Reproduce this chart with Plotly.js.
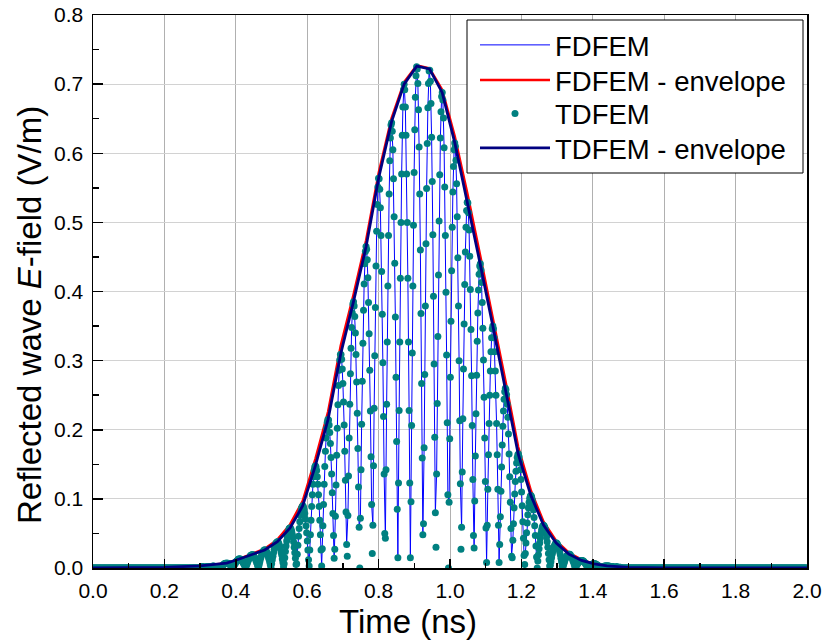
<!DOCTYPE html>
<html>
<head>
<meta charset="utf-8">
<script src="https://cdn.plot.ly/plotly-3.0.1.min.js"></script>
<style>html,body{margin:0;padding:0;background:#fff;}#chart{width:824px;height:642px;}</style>
</head>
<body>
<div id="chart"></div>
<script>
// ---------------- data ----------------
// Uniform time sampling of the two solutions (ns)
const tdfemStart = 0;
const tdfemStep = 0.00175;
const fdfemStart = 0;
const fdfemStep = 0.0035;

// TDFEM |E| samples, 0 ... 1.9985 ns
const tdfemValue = [
0,0,0,0,0,0,0,0,0,0,0,0,0,0,0,0,0,0,0,0,
0,0,0,0,0,0,0,0,0,0,0,0,0,0,0,0,0,0,0,0,
0,0,0,0,0,0,0,0,0,0,0,0,0,0,0,0,0,0,0,0,
0,0,0,0,0,0,0,0,0,0,0,0,0,0,0,0,0,0,0,0,
0,0,0,0,0,0,0,0,0,0,0,0,0,0,0,0,0,0,0,0,
0,0,0,0,0,0,0,0,0,0,0,0,0,0,0,0,0,0,0,0,
0,0,0,0,0,0,0,0,0,0,0,0,0,0,0,0,0,0,0,0,
0,0,0,0,0,0,0,0,0,0,0,0,0,0,0,0,0,0,0,0,
0,0,0,0,0,0,0,0,0,0,0,0,
0.001,0.001,0.002,0.002,0.002,0.001,0.001,0,0.001,0.001,0.002,0.002,0.002,0.002,0.001,0.001,0,0.001,0.002,0.002,0.003,0.003,0.002,0.002,0.001,0,0.001,0.002,
0.002,0.002,0.001,0.001,
0.000,0.001,0.002,0.003,0.004,0.005,0.006,0.006,0.007,0.007,0.007,0.007,0.007,0.006,0.006,0.005,0.004,0.003,0.002,0.001,0.000,
0.002,0.004,0.006,0.007,0.009,0.010,0.011,0.012,0.013,0.013,0.013,0.013,0.012,0.011,0.010,0.008,0.007,0.005,0.003,0.001,
0.002,0.005,0.007,0.010,0.012,0.014,0.016,0.018,0.018,0.019,0.019,0.019,0.018,0.016,0.015,0.013,0.010,0.008,0.005,0.002,
0.001,0.005,0.009,0.013,0.016,0.019,0.021,0.023,0.025,0.026,0.026,0.026,0.025,0.023,0.021,0.018,0.015,0.012,0.008,0.004,
0.000,0.006,0.012,0.017,0.022,0.027,0.030,0.034,0.036,0.037,0.038,0.038,0.036,0.034,0.031,0.028,0.023,0.019,0.013,0.008,0.002,
0.006,0.015,0.024,0.032,0.039,0.045,0.050,0.054,0.057,0.058,0.058,0.056,0.053,0.049,0.044,0.038,0.030,0.022,0.014,0.005,
0.006,0.020,0.033,0.046,0.057,0.067,0.076,0.082,0.087,0.089,0.090,0.088,0.084,0.079,0.071,0.061,0.051,0.039,0.026,0.012,
0.003,0.026,0.048,0.069,0.089,0.106,0.121,0.132,0.141,0.146,0.148,0.146,0.141,0.132,0.121,0.106,0.089,0.069,0.048,0.026,0.003,
0.028,0.061,0.092,0.121,0.147,0.169,0.188,0.202,0.211,0.215,0.214,0.207,0.196,0.180,0.160,0.136,0.109,0.079,0.047,0.014,
0.027,0.075,0.120,0.163,0.202,0.236,0.264,0.286,0.301,0.309,0.309,0.302,0.288,0.267,0.240,0.207,0.169,0.127,0.081,0.034,
0.017,0.076,0.133,0.188,0.237,0.281,0.318,0.348,0.369,0.382,0.385,0.379,0.364,0.340,0.309,0.269,0.224,0.173,0.117,0.059,
0.000,0.072,0.142,0.208,0.270,0.325,0.373,0.411,0.440,0.458,0.465,0.461,0.446,0.420,0.384,0.339,0.286,0.227,0.161,0.092,0.021,
0.062,0.148,0.231,0.307,0.377,0.437,0.487,0.526,0.551,0.564,0.563,0.548,0.521,0.481,0.429,0.367,0.297,0.219,0.136,0.050,
0.043,0.142,0.237,0.327,0.408,0.481,0.541,0.589,0.622,0.641,0.644,0.632,0.605,0.563,0.508,0.441,0.363,0.276,0.183,0.085,
0.015,0.123,0.228,0.327,0.419,0.500,0.570,0.626,0.667,0.692,0.700,0.692,0.667,0.626,0.570,0.500,0.419,0.327,0.228,0.123,0.015,
0.096,0.206,0.311,0.408,0.496,0.572,0.634,0.681,0.712,0.725,0.722,0.701,0.663,0.609,0.541,0.460,0.368,0.267,0.159,0.048,
0.064,0.174,0.280,0.379,0.469,0.549,0.614,0.666,0.701,0.719,0.720,0.704,0.672,0.623,0.559,0.482,0.393,0.295,0.189,0.080,
0.030,0.136,0.238,0.335,0.424,0.502,0.569,0.622,0.660,0.682,0.688,0.677,0.651,0.608,0.551,0.481,0.399,0.308,0.210,0.106,
0.000,0.095,0.187,0.276,0.357,0.430,0.493,0.544,0.581,0.605,0.615,0.610,0.590,0.556,0.508,0.449,0.379,0.300,0.213,0.122,0.027,
0.059,0.139,0.216,0.288,0.353,0.410,0.457,0.493,0.517,0.529,0.528,0.514,0.489,0.451,0.403,0.345,0.278,0.206,0.128,0.047,
0.029,0.097,0.162,0.223,0.279,0.328,0.369,0.402,0.425,0.437,0.440,0.431,0.413,0.384,0.347,0.301,0.247,0.188,0.125,0.058,
0.008,0.062,0.114,0.164,0.209,0.250,0.285,0.313,0.333,0.346,0.350,0.346,0.333,0.313,0.285,0.250,0.209,0.164,0.114,0.062,0.008,
0.034,0.074,0.111,0.146,0.178,0.205,0.227,0.244,0.255,0.260,0.258,0.251,0.237,0.218,0.194,0.165,0.132,0.095,0.057,0.017,
0.015,0.040,0.064,0.087,0.107,0.125,0.140,0.152,0.160,0.164,0.165,0.161,0.153,0.142,0.128,0.110,0.090,0.067,0.043,0.018,
0.005,0.021,0.036,0.051,0.065,0.077,0.087,0.095,0.101,0.104,0.105,0.103,0.099,0.093,0.084,0.073,0.061,0.047,0.032,0.016,
0.000,0.010,0.019,0.028,0.036,0.043,0.050,0.055,0.059,0.061,0.062,0.061,0.059,0.056,0.051,0.045,0.038,0.030,0.021,0.012,0.003,
0.004,0.009,0.015,0.020,0.024,0.028,0.031,0.033,0.035,0.036,0.036,0.035,0.033,0.031,0.027,0.023,0.019,0.014,0.009,0.003,
0.001,0.004,0.007,0.010,0.013,0.015,0.017,0.018,0.019,0.020,0.020,0.020,0.019,0.017,0.016,0.014,0.011,0.009,0.006,0.003,
0.000,0.002,0.004,0.005,0.007,0.008,0.009,0.010,0.010,0.011,0.011,0.011,0.010,0.010,0.009,0.008,0.007,0.005,0.004,0.002,0.000,
0.001,0.002,0.003,0.003,0.004,0.005,0.005,0.006,0.006,0.006,0.006,0.006,0.005,0.005,0.004,0.004,0.003,0.002,0.001,0.000,
0.000,0.001,0.001,0.002,0.002,0.002,0.003,0.003,0.003,0.003,0.003,0.003,0.003,0.003,0.002,0.002,
0.001,0.002,0.002,0.002,0.001,0.001,0,0.001,0.001,0.002,0.001,0.001,0.001,0,0.001,0.001,
0,0,0,0,0,0,0,0,0,0,0,0,0,0,0,0,0,0,0,0,
0,0,0,0,0,0,0,0,0,0,0,0,0,0,0,0,0,0,0,0,
0,0,0,0,0,0,0,0,0,0,0,0,0,0,0,0,0,0,0,0,
0,0,0,0,0,0,0,0,0,0,0,0,0,0,0,0,0,0,0,0,
0,0,0,0,0,0,0,0,0,0,0,0,0,0,0,0,0,0,0,0,
0,0,0,0,0,0,0,0,0,0,0,0,0,0,0,0,0,0,0,0,
0,0,0,0,0,0,0,0,0,0,0,0,0,0,0,0,0,0,0,0,
0,0,0,0,0,0,0,0,0,0,0,0,0,0,0,0,0,0,0,0,
0,0,0,0,0,0,0,0,0,0,0,0,0,0,0,0,0,0,0,0,
0,0,0,0,0,0,0,0,0,0,0,0,0,0,0,0,0,0,0,0,
0,0,0,0,0,0,0,0,0,0,0,0,0,0,0,0,0,0,0,0,
0,0,0,0,0,0,0,0,0,0,0,0,0,0,0,0,0,0,0,0,
0,0,0,0,0,0,0,0,0,0,0,0,0,0,0,0,0,0,0,0,
0,0,0,0,0,0,0,0,0,0,0,0,0,0,0,0,0,0,0,0,
0,0,0,0,0,0,0,0,0,0,0,0,0,0,0,0,0,0
];

// FDFEM |E| samples, 0 ... 1.9985 ns
const fdfemValue = [
0,0,0,0,0,0,0,0,0,0,0,0,0,0,0,0,0,0,0,0,
0,0,0,0,0,0,0,0,0,0,0,0,0,0,0,0,0,0,0,0,
0,0,0,0,0,0,0,0,0,0,0,0,0,0,0,0,0,0,0,0,
0,0,0,0,0,0,0,0,0,0,0,0,0,0,0,0,0,0,0,0,
0,0,0,0,0,0,
0.001,0.002,0.002,0.001,0.000,0.001,0.002,0.002,0.001,0.000,0.001,0.002,0.003,0.002,
0.002,0.001,
0.000,0.002,0.004,0.006,0.007,0.007,0.007,0.006,0.004,0.002,0.000,
0.004,0.007,0.010,0.012,0.013,0.013,0.011,0.008,0.005,0.001,
0.005,0.010,0.014,0.018,0.019,0.019,0.016,0.013,0.008,0.002,
0.005,0.013,0.019,0.024,0.026,0.026,0.023,0.018,0.012,0.004,
0.006,0.017,0.027,0.034,0.037,0.038,0.034,0.028,0.019,0.008,
0.006,0.024,0.039,0.050,0.057,0.058,0.053,0.044,0.031,0.014,
0.006,0.033,0.057,0.076,0.087,0.090,0.084,0.071,0.051,0.026,
0.003,0.048,0.089,0.120,0.141,0.148,0.141,0.120,0.089,0.048,0.003,
0.061,0.121,0.169,0.202,0.215,0.207,0.180,0.136,0.079,0.014,
0.075,0.163,0.236,0.286,0.309,0.303,0.267,0.207,0.126,0.034,
0.076,0.187,0.281,0.348,0.382,0.379,0.340,0.269,0.172,0.059,
0.072,0.208,0.325,0.411,0.458,0.461,0.420,0.339,0.226,0.092,
0.062,0.231,0.377,0.487,0.551,0.563,0.521,0.429,0.297,0.136,
0.043,0.237,0.408,0.541,0.622,0.644,0.605,0.508,0.362,0.183,
0.015,0.228,0.419,0.570,0.666,0.700,0.666,0.570,0.419,0.228,0.015,
0.206,0.408,0.572,0.681,0.725,0.701,0.609,0.460,0.266,0.048,
0.174,0.380,0.549,0.666,0.719,0.705,0.622,0.482,0.295,0.079,
0.136,0.335,0.502,0.622,0.682,0.677,0.608,0.481,0.308,0.106,
0.095,0.276,0.430,0.544,0.605,0.609,0.556,0.449,0.300,0.122,
0.058,0.216,0.354,0.457,0.517,0.528,0.489,0.403,0.279,0.128,
0.029,0.161,0.279,0.369,0.425,0.440,0.413,0.347,0.247,0.125,
0.008,0.114,0.209,0.285,0.333,0.350,0.333,0.285,0.209,0.114,0.008,
0.074,0.146,0.205,0.244,0.260,0.251,0.218,0.165,0.095,0.017,
0.040,0.087,0.125,0.152,0.164,0.161,0.142,0.110,0.067,0.018,
0.021,0.051,0.077,0.095,0.104,0.103,0.093,0.073,0.047,0.016,
0.010,0.028,0.043,0.055,0.061,0.061,0.056,0.045,0.030,0.012,
0.004,0.015,0.024,0.031,0.035,0.036,0.033,0.027,0.019,0.009,
0.001,0.007,0.013,0.017,0.019,0.020,0.019,0.016,0.011,0.006,
0.000,0.004,0.007,0.009,0.010,0.011,0.010,0.009,0.007,0.004,0.000,
0.002,0.003,0.005,0.006,0.006,0.006,0.005,0.004,0.002,0.000,
0.001,0.002,0.002,0.003,0.003,0.003,0.003,0.002,
0.001,0.002,0.002,0.002,0.001,0.000,0.001,0.001,0.001,0.001,
0,0,0,0,0,0,0,0,0,0,0,0,0,0,0,0,0,0,0,0,
0,0,0,0,0,0,0,0,0,0,0,0,0,0,0,0,0,0,0,0,
0,0,0,0,0,0,0,0,0,0,0,0,0,0,0,0,0,0,0,0,
0,0,0,0,0,0,0,0,0,0,0,0,0,0,0,0,0,0,0,0,
0,0,0,0,0,0,0,0,0,0,0,0,0,0,0,0,0,0,0,0,
0,0,0,0,0,0,0,0,0,0,0,0,0,0,0,0,0,0,0,0,
0,0,0,0,0,0,0,0,0,0,0,0,0,0,0,0,0,0,0,0,
0,0,0,0,0,0,0
];

// Envelopes (through the lobe peaks)
const envelopeTime = [0, 0.1, 0.2, 0.3, 0.3745, 0.41, 0.4455, 0.481, 0.5165, 0.552, 0.5875, 0.623, 0.6585, 0.694, 0.7295, 0.765, 0.8005, 0.836, 0.8715, 0.907, 0.9425, 0.978, 1.0135, 1.049, 1.0845, 1.12, 1.1555, 1.191, 1.2265, 1.262, 1.2975, 1.333, 1.3685, 1.404, 1.4395, 1.5, 1.6, 1.8, 2.0];
const fdfemEnvelope = [0, 0, 0.001, 0.003, 0.007, 0.013, 0.020, 0.028, 0.041, 0.063, 0.097, 0.158, 0.226, 0.322, 0.395, 0.474, 0.572, 0.650, 0.703, 0.727, 0.723, 0.692, 0.624, 0.541, 0.452, 0.362, 0.270, 0.175, 0.112, 0.067, 0.039, 0.022, 0.012, 0.006, 0.003, 0.001, 0, 0, 0];
const tdfemEnvelope = [0, 0, 0.001, 0.003, 0.007, 0.013, 0.019, 0.026, 0.038, 0.058, 0.090, 0.148, 0.215, 0.310, 0.385, 0.465, 0.565, 0.645, 0.700, 0.726, 0.722, 0.688, 0.615, 0.530, 0.440, 0.350, 0.260, 0.165, 0.105, 0.062, 0.036, 0.020, 0.011, 0.006, 0.003, 0.001, 0, 0, 0];

const seriesNames = ['FDFEM', 'FDFEM - envelope', 'TDFEM', 'TDFEM - envelope'];
const xTitle = 'Time (ns)';
const yTitle = 'Reflected wave <i>E</i>-field (V/m)';

// ---------------- chart ----------------
const FONT = 'Liberation Sans, Arial, Helvetica, sans-serif';
const traces = [
  {type:'scatter', mode:'lines', name:seriesNames[0], legend:'legend', x0:fdfemStart, dx:fdfemStep, y:fdfemValue,
   line:{color:'#0000ff', width:1}},
  {type:'scatter', mode:'lines', name:seriesNames[1], legend:'legend2', x:envelopeTime, y:fdfemEnvelope,
   line:{color:'#ff0000', width:2.5}},
  {type:'scatter', mode:'markers', name:seriesNames[2], legend:'legend3', x0:tdfemStart, dx:tdfemStep, y:tdfemValue,
   marker:{color:'#008080', size:7}},
  {type:'scatter', mode:'lines', name:seriesNames[3], legend:'legend4', x:envelopeTime, y:tdfemEnvelope,
   line:{color:'#000080', width:2.8}}
];

const axisCommon = {
  showline:true, linecolor:'#000', linewidth:1.5, mirror:true,
  ticks:'inside', tickcolor:'#000', tickwidth:1.5,
  zeroline:false, showgrid:true, gridwidth:1,
  tickfont:{family:FONT, size:21, color:'#000'}
};

function legendAt(py) {
  return {x:(475 - 93) / 714, y:(568 - py) / 553, xanchor:'left', yanchor:'middle',
    bgcolor:'rgba(0,0,0,0)', borderwidth:0, font:{family:FONT, size:27.5, color:'#000'},
    itemwidth:70};
}

const layout = {
  width:824, height:642,
  margin:{l:93, r:17, t:15, b:74, pad:0},
  paper_bgcolor:'#fff', plot_bgcolor:'#fff',
  font:{family:FONT, color:'#000'},
  showlegend:true,
  hovermode:false,
  xaxis:Object.assign({}, axisCommon, {
    range:[0,2], tick0:0, dtick:0.2, tickformat:'.1f', ticklen:9, ticklabelstandoff:3,
    gridcolor:'#b0b0b0',
    minor:{ticks:'inside', dtick:0.1, ticklen:5, tickcolor:'#000', tickwidth:1.5, showgrid:false}
  }),
  yaxis:Object.assign({}, axisCommon, {
    range:[0,0.8], tick0:0, dtick:0.1, tickformat:'.1f', ticklen:10, ticklabelstandoff:4,
    gridcolor:'#d2d2d2',
    minor:{ticks:'inside', dtick:0.05, ticklen:6, tickcolor:'#000', tickwidth:1.5, showgrid:false}
  }),
  legend:legendAt(45),
  legend2:legendAt(80),
  legend3:legendAt(113.5),
  legend4:legendAt(148),
  shapes:[
    {type:'rect', xref:'paper', yref:'paper', layer:'above',
     x0:(467 - 93) / 714, x1:(803 - 93) / 714, y0:(568 - 173) / 553, y1:(568 - 20) / 553,
     fillcolor:'#ffffff', line:{color:'#000', width:1}}
  ],
  annotations:[
    {text:xTitle, xref:'paper', yref:'paper', x:0.441, y:-0.096, xanchor:'center', yanchor:'middle',
     showarrow:false, font:{family:FONT, size:33, color:'#000'}},
    {text:yTitle, xref:'paper', yref:'paper', x:-0.0896, y:0.4575, xanchor:'center', yanchor:'middle',
     textangle:-90, showarrow:false, font:{family:FONT, size:33, color:'#000'}}
  ]
};

Plotly.newPlot('chart', traces, layout, {staticPlot:true, displayModeBar:false});
</script>
</body>
</html>
